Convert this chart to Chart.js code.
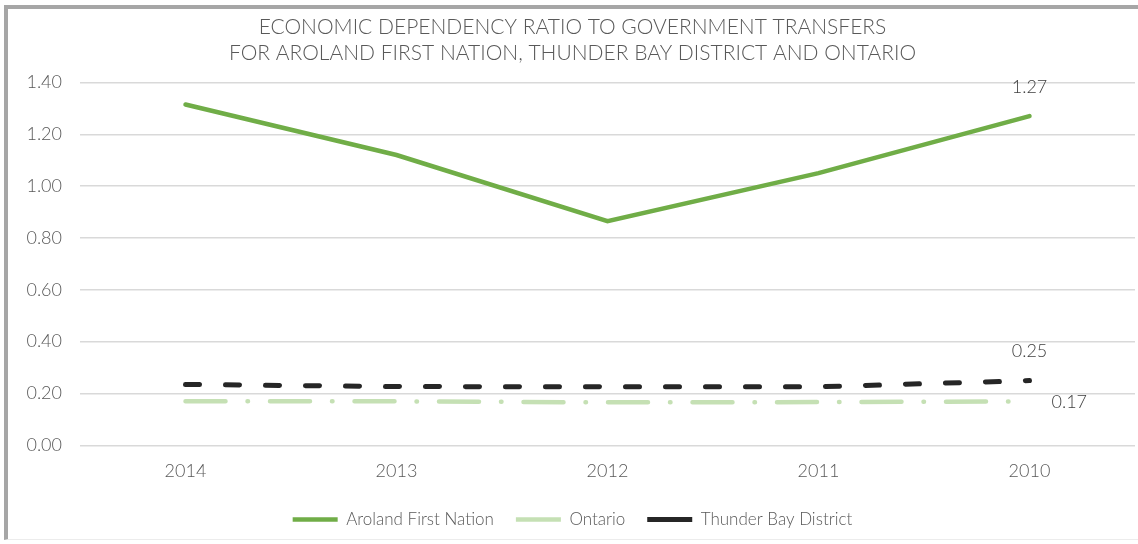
<!DOCTYPE html>
<html>
<head>
<meta charset="utf-8">
<script src="https://cdn.jsdelivr.net/npm/chart.js@4"></script>
<style>
  html, body { margin: 0; padding: 0; background: #fff; }
  #frame {
    position: absolute; left: 4px; top: 5px; width: 1134px; height: 535px;
    border-top: 4px solid #a6a6a6; border-left: 4px solid #a6a6a6;
    border-bottom: 1px solid #ececec; box-sizing: border-box;
  }
  #wrap { position: absolute; left: 0; top: 0; width: 1138px; height: 544px; }
</style>
</head>
<body>
<div id="frame"></div>
<div id="wrap"><canvas id="chart"></canvas></div>
<script>
// data
const years = ["2014", "2013", "2012", "2011", "2010"];
const aroland = [1.315, 1.12, 0.865, 1.05, 1.27];
const ontario = [0.17, 0.17, 0.166, 0.167, 0.17];
const thunderBay = [0.235, 0.227, 0.226, 0.226, 0.25];
const yTicks = [0, 0.2, 0.4, 0.6, 0.8, 1.0, 1.2, 1.4];

const FONT = "Lato";
const GREY = "#595959";

// last-point value labels
const endLabels = {
  id: "endLabels",
  afterDatasetsDraw(chart) {
    const ctx = chart.ctx;
    ctx.save();
    ctx.font = `300 18px ${FONT}`;
    ctx.fillStyle = "#404040";
    ctx.textBaseline = "middle";
    chart.data.datasets.forEach((ds, i) => {
      const meta = chart.getDatasetMeta(i);
      const last = meta.data[meta.data.length - 1];
      const txt = ds.data[ds.data.length - 1].toFixed(2);
      if (ds.labelPos === "right") {
        ctx.textAlign = "left";
        ctx.fillText(txt, last.x + 22, last.y + 1);
      } else {
        ctx.textAlign = "center";
        ctx.fillText(txt, last.x, last.y - 29);
      }
    });
    ctx.restore();
  }
};

const ctx = document.getElementById("chart").getContext("2d");
new Chart(ctx, {
  type: "line",
  data: {
    labels: years,
    datasets: [
      {
        label: "Aroland First Nation",
        data: aroland,
        borderColor: "#70ad47",
        backgroundColor: "#70ad47",
        borderWidth: 4.5,
        borderCapStyle: "round",
        pointRadius: 0,
        pointStyle: "line",
        labelPos: "above",
      },
      {
        label: "Ontario",
        data: ontario,
        borderColor: "#c5e0b4",
        backgroundColor: "#c5e0b4",
        borderWidth: 4.5,
        borderCapStyle: "round",
        borderDash: [40, 22, 0.5, 22],
        pointRadius: 0,
        pointStyle: "line",
        labelPos: "right",
      },
      {
        label: "Thunder Bay District",
        data: thunderBay,
        borderColor: "#262626",
        backgroundColor: "#262626",
        borderWidth: 5,
        borderCapStyle: "round",
        borderDash: [14, 26],
        pointRadius: 0,
        pointStyle: "line",
        labelPos: "above",
      },
    ],
  },
  options: {
    responsive: true,
    maintainAspectRatio: false,
    animation: false,
    layout: { padding: { left: 10, right: 3, top: 15, bottom: 6 } },
    plugins: {
      title: {
        display: true,
        text: ["ECONOMIC DEPENDENCY RATIO TO GOVERNMENT TRANSFERS",
               "FOR AROLAND FIRST NATION, THUNDER BAY DISTRICT AND ONTARIO"],
        color: GREY,
        font: { family: FONT, size: 21, weight: 300, lineHeight: 1.2 },
        padding: { top: 0, bottom: 17 },
      },
      legend: {
        position: "bottom",
        labels: {
          usePointStyle: true,
          pointStyleWidth: 45,
          boxHeight: 10,
          color: GREY,
          font: { family: FONT, size: 17, weight: 300 },
          padding: 22,
        },
      },
      tooltip: { enabled: false },
    },
    scales: {
      x: {
        offset: true,
        grid: { display: false },
        border: { display: false },
        ticks: { color: GREY, font: { family: FONT, size: 18, weight: 300 }, padding: 7 },
      },
      y: {
        min: 0,
        max: 1.4,
        afterBuildTicks: (axis) => { axis.ticks = yTicks.map(v => ({ value: v })); },
        afterFit: (axis) => { axis.width = 70; },
        grid: { color: "#d9d9d9", lineWidth: 1.5, drawTicks: false },
        border: { display: false },
        ticks: {
          color: GREY,
          font: { family: FONT, size: 18, weight: 300 },
          padding: 18,
          callback: (v) => v.toFixed(2),
        },
      },
    },
  },
  plugins: [endLabels],
});
</script>
</body>
</html>
